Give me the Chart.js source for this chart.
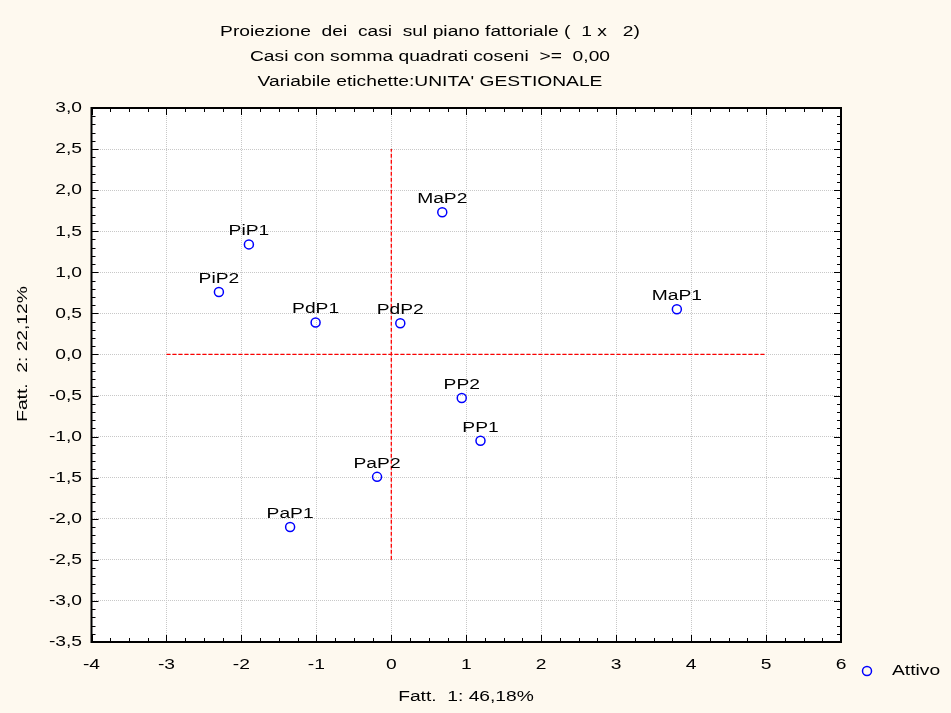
<!DOCTYPE html>
<html>
<head>
<meta charset="utf-8">
<script src="https://cdn.jsdelivr.net/npm/chart.js@4.4.1/dist/chart.umd.min.js"></script>
<style>
html,body{margin:0;padding:0;background:#FEF9EF;}
#wrap{width:951px;height:713px;}
</style>
</head>
<body>
<div id="wrap"><canvas id="c" width="951" height="713"></canvas></div>
<script>
const caseLabels = ['PiP1','PiP2','PdP1','PdP2','MaP2','MaP1','PP2','PP1','PaP2','PaP1'];
const fact1 = [-1.90,-2.30,-1.01,0.12,0.68,3.81,0.94,1.19,-0.19,-1.35];
const fact2 = [1.34,0.76,0.39,0.38,1.73,0.55,-0.53,-1.05,-1.49,-2.10];
const xTickValues = [-4,-3,-2,-1,0,1,2,3,4,5,6];
const xTickLabels = ['-4','-3','-2','-1','0','1','2','3','4','5','6'];
const yTickValues = [3,2.5,2,1.5,1,0.5,0,-0.5,-1,-1.5,-2,-2.5,-3,-3.5];
const yTickLabels = ['3,0','2,5','2,0','1,5','1,0','0,5','0,0','-0,5','-1,0','-1,5','-2,0','-2,5','-3,0','-3,5'];
const xRefLine = [{x:-3,y:0},{x:5,y:0}];
const yRefLine = [{x:0,y:-2.5},{x:0,y:2.5}];
const titleLines = ['Proiezione  dei  casi  sul piano fattoriale (  1 x   2)','Casi con somma quadrati coseni  >=  0,00',"Variabile etichette:UNITA' GESTIONALE"];
const xTitle = 'Fatt.  1: 46,18%';
const yTitle = 'Fatt.  2: 22,12%';
const legendLabel = 'Attivo';

const FONT = '"Liberation Sans", Arial, sans-serif';
const STRETCH = 1.24;

function txt(ctx, s, x, y, align, rot){
  ctx.save();
  ctx.translate(x,y);
  if(rot) ctx.rotate(rot);
  ctx.scale(STRETCH,1);
  ctx.textAlign=align;
  ctx.fillText(s,0,0);
  ctx.restore();
}

const overlay = {
  id:'overlay',
  beforeDraw(chart){
    const ctx=chart.ctx, a=chart.chartArea;
    ctx.save();
    ctx.fillStyle='#FEF9EF';
    ctx.fillRect(0,0,chart.width,chart.height);
    ctx.fillStyle='#FFFFFF';
    ctx.fillRect(a.left,a.top,a.right-a.left,a.bottom-a.top);
    ctx.restore();
  },
  afterDraw(chart){
    const ctx=chart.ctx, a=chart.chartArea, xs=chart.scales.x, ys=chart.scales.y;
    ctx.save();
    ctx.strokeStyle='#000'; ctx.lineWidth=1;
    ctx.beginPath();
    for(let i=0;i<=40;i++){
      const v=-4+i*0.25; const px=Math.round(xs.getPixelForValue(v))+0.5;
      const len = (i%4===0)?7:4;
      ctx.moveTo(px,a.bottom); ctx.lineTo(px,a.bottom-len);
      ctx.moveTo(px,a.top); ctx.lineTo(px,a.top+len);
    }
    for(let i=0;i<=65;i++){
      const v=-3.5+i*0.1; const py=Math.round(ys.getPixelForValue(v))+0.5;
      const len = (i%5===0)?7:4;
      ctx.moveTo(a.left,py); ctx.lineTo(a.left+len,py);
      ctx.moveTo(a.right,py); ctx.lineTo(a.right-len,py);
    }
    ctx.stroke();
    ctx.lineWidth=2;
    ctx.strokeRect(a.left,a.top,a.right-a.left,a.bottom-a.top);

    ctx.fillStyle='#000';
    ctx.font='15.5px '+FONT;
    ctx.textBaseline='alphabetic';
    caseLabels.forEach((l,i)=>{
      const px=xs.getPixelForValue(fact1[i]), py=ys.getPixelForValue(fact2[i]);
      txt(ctx,l,px,py-9,'center');
    });
    ctx.textBaseline='middle';
    xTickValues.forEach((v,i)=>txt(ctx,xTickLabels[i],xs.getPixelForValue(v),665,'center'));
    yTickValues.forEach((v,i)=>txt(ctx,yTickLabels[i],82,ys.getPixelForValue(v),'right'));
    titleLines.forEach((t,i)=>txt(ctx,t,430,32+i*25,'center'));
    txt(ctx,xTitle,466,697,'center');
    txt(ctx,yTitle,23,354,'center',-Math.PI/2);
    ctx.beginPath();
    ctx.strokeStyle='#0000FF'; ctx.lineWidth=1.5;
    ctx.arc(867,671,4.5,0,Math.PI*2); ctx.stroke();
    txt(ctx,legendLabel,892,671,'left');
    ctx.restore();
  }
};

new Chart(document.getElementById('c'),{
  type:'scatter',
  data:{datasets:[
    {label:'h',data:xRefLine,showLine:true,borderColor:'#FF0000',borderWidth:1.3,borderDash:[4,2],pointRadius:0,fill:false},
    {label:'v',data:yRefLine,showLine:true,borderColor:'#FF0000',borderWidth:1.3,borderDash:[4,2],pointRadius:0,fill:false},
    {label:legendLabel,data:fact1.map((x,i)=>({x:x,y:fact2[i]})),pointRadius:4.5,pointBorderColor:'#0000FF',pointBackgroundColor:'rgba(255,255,255,0)',pointBorderWidth:1.5,showLine:false}
  ]},
  options:{
    responsive:false,animation:false,
    layout:{padding:{left:0,top:108,right:110,bottom:0}},
    plugins:{legend:{display:false},tooltip:{enabled:false},title:{display:false}},
    scales:{
      x:{type:'linear',min:-4,max:6,
        ticks:{stepSize:1,display:false},
        grid:{color:'#c8c8c8',drawTicks:false,lineWidth:1},
        border:{display:false,dash:[1,1]},
        afterFit(s){s.height=71;}
      },
      y:{type:'linear',min:-3.5,max:3,
        ticks:{stepSize:0.5,display:false},
        grid:{color:'#c8c8c8',drawTicks:false,lineWidth:1},
        border:{display:false,dash:[1,1]},
        afterFit(s){s.width=91.5;}
      }
    }
  },
  plugins:[overlay]
});
</script>
</body>
</html>
